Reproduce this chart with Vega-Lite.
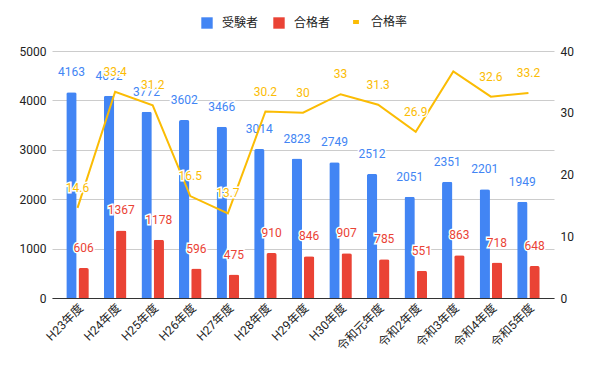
{
  "$schema": "https://vega.github.io/schema/vega-lite/v6.json",
  "autosize": "none",
  "width": 502,
  "height": 247,
  "padding": {"left": 52, "top": 51, "right": 46, "bottom": 73},
  "background": "white",
  "config": {
    "view": {"stroke": null},
    "font": "Roboto, Noto Sans CJK JP",
    "axis": {"labelFont": "Roboto, Noto Sans CJK JP", "labelFontSize": 12, "labelColor": "#222", "titleFontSize": 12}
  },
  "data": {
    "values": [
      {"year": "H23年度", "受験者": 4163, "合格者": 606, "rate": 14.6},
      {"year": "H24年度", "受験者": 4092, "合格者": 1367, "rate": 33.4},
      {"year": "H25年度", "受験者": 3772, "合格者": 1178, "rate": 31.2},
      {"year": "H26年度", "受験者": 3602, "合格者": 596, "rate": 16.5},
      {"year": "H27年度", "受験者": 3466, "合格者": 475, "rate": 13.7},
      {"year": "H28年度", "受験者": 3014, "合格者": 910, "rate": 30.2},
      {"year": "H29年度", "受験者": 2823, "合格者": 846, "rate": 30},
      {"year": "H30年度", "受験者": 2749, "合格者": 907, "rate": 33},
      {"year": "令和元年度", "受験者": 2512, "合格者": 785, "rate": 31.3},
      {"year": "令和2年度", "受験者": 2051, "合格者": 551, "rate": 26.9},
      {"year": "令和3年度", "受験者": 2351, "合格者": 863, "rate": 36.7},
      {"year": "令和4年度", "受験者": 2201, "合格者": 718, "rate": 32.6},
      {"year": "令和5年度", "受験者": 1949, "合格者": 648, "rate": 33.2}
    ]
  },
  "encoding": {
    "x": {
      "field": "year", "type": "nominal", "sort": null, "title": null,
      "scale": {"paddingInner": 0.4, "paddingOuter": 0.38},
      "axis": {"labelAngle": -45, "domainColor": "#333", "ticks": false, "labelPadding": 4}
    }
  },
  "layer": [
    {
      "transform": [{"fold": ["受験者", "合格者"], "as": ["series", "value"]}],
      "encoding": {
        "xOffset": {"field": "series", "sort": ["受験者", "合格者"], "scale": {"paddingInner": 0.15}},
        "y": {
          "field": "value", "type": "quantitative", "title": null,
          "scale": {"domain": [0, 5000]},
          "axis": {"values": [0, 1000, 2000, 3000, 4000, 5000], "format": "d", "domain": false, "ticks": false, "gridColor": "#cccccc", "labelPadding": 6}
        }
      },
      "layer": [
        {
          "mark": {"type": "bar", "cornerRadiusTopLeft": 2, "cornerRadiusTopRight": 2},
          "encoding": {
            "color": {
              "field": "series", "type": "nominal",
              "scale": {"domain": ["受験者", "合格者", "合格率"], "range": ["#4285F4", "#EA4335", "#FBBC04"]},
              "legend": {
                "orient": "none", "legendX": 149, "legendY": -35, "direction": "horizontal", "title": null,
                "labelFontSize": 12, "labelColor": "#222", "symbolSize": 130, "columnPadding": 14, "labelOffset": 9,
                "symbolType": "square",
                "encode": {
                  "symbols": {
                    "update": {
                      "shape": {"signal": "datum.label === '合格率' ? 'stroke' : 'square'"},
                      "size": {"signal": "datum.label === '合格率' ? 34 : 130"},
                      "fill": {"scale": "color", "field": "value"},
                      "stroke": {"scale": "color", "field": "value"},
                      "strokeWidth": {"signal": "datum.label === '合格率' ? 4 : 0"},
                      "opacity": {"value": 1}
                    }
                  }
                }
              }
            }
          }
        },
        {
          "mark": {"type": "text", "dy": -20, "fontSize": 12, "stroke": "white", "strokeWidth": 3, "fill": "white"},
          "encoding": {"text": {"field": "value", "type": "quantitative", "format": "d"}}
        },
        {
          "mark": {"type": "text", "dy": -20, "fontSize": 12},
          "encoding": {
            "text": {"field": "value", "type": "quantitative", "format": "d"},
            "color": {"field": "series", "type": "nominal"}
          }
        }
      ]
    },
    {
      "encoding": {
        "y": {
          "field": "rate", "type": "quantitative", "title": null,
          "scale": {"domain": [0, 40]},
          "axis": {"orient": "right", "values": [0, 10, 20, 30, 40], "grid": false, "domain": false, "ticks": false, "labelPadding": 6}
        }
      },
      "layer": [
        {
          "mark": {"type": "line", "strokeWidth": 2},
          "encoding": {"color": {"datum": "合格率"}}
        },
        {
          "transform": [{"filter": "datum.year !== '令和3年度'"}],
          "mark": {"type": "text", "dy": -20, "fontSize": 12, "stroke": "white", "strokeWidth": 3, "fill": "white"},
          "encoding": {"text": {"field": "rate", "type": "quantitative", "format": ".3~g"}}
        },
        {
          "transform": [{"filter": "datum.year !== '令和3年度'"}],
          "mark": {"type": "text", "dy": -20, "fontSize": 12},
          "encoding": {
            "text": {"field": "rate", "type": "quantitative", "format": ".3~g"},
            "color": {"datum": "合格率"}
          }
        }
      ]
    }
  ],
  "resolve": {"scale": {"y": "independent"}}
}
